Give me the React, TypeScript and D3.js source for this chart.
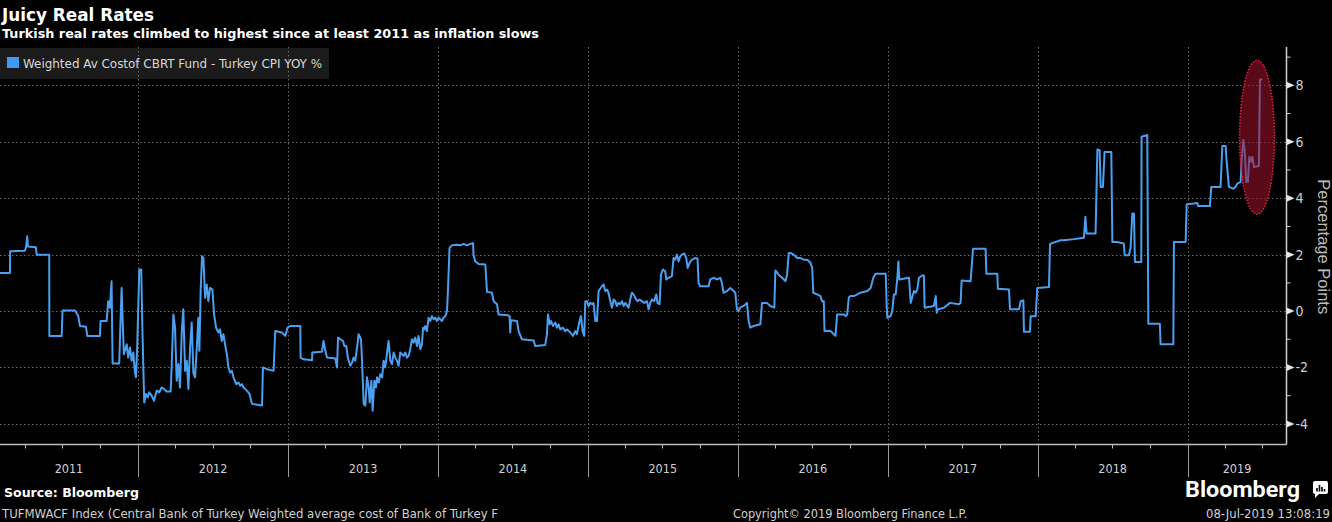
import React, { useRef, useEffect } from "react";
import * as d3 from "d3";

// Weighted Av Cost of CBRT Funding minus Turkey CPI YoY (pct points)
// each point is [decimal year, value]
const s2011 = [
  [2011.079, 1.35], [2011.146, 1.35], [2011.147, 2.12], [2011.246, 2.14], [2011.253, 2.26], [2011.261, 2.65],
  [2011.266, 2.29], [2011.319, 2.26], [2011.324, 2.0], [2011.408, 2.0], [2011.409, -0.88], [2011.491, -0.88],
  [2011.497, 0.02], [2011.58, 0.02], [2011.602, -0.18], [2011.613, -0.53], [2011.653, -0.56], [2011.662, -0.88],
  [2011.746, -0.88], [2011.751, -0.35], [2011.791, -0.35], [2011.802, 0.35], [2011.813, 0.12], [2011.824, 1.06],
  [2011.831, -1.86], [2011.875, -1.86], [2011.891, 0.82], [2011.906, -1.53], [2011.925, -1.18], [2011.935, -1.65],
  [2011.947, -1.29], [2011.958, -1.76], [2011.969, -1.47], [2011.98, -2.18], [2011.987, -2.35], [2011.995, -1.3],
];
const s2012 = [
  [2012.009, 1.47], [2012.022, 1.47], [2012.031, -0.94], [2012.042, -3.24], [2012.053, -2.94], [2012.065, -3.06],
  [2012.075, -2.88], [2012.091, -3.0], [2012.107, -3.18], [2012.125, -2.82], [2012.142, -2.88], [2012.158, -2.71],
  [2012.173, -2.76], [2012.191, -2.85], [2012.218, -2.85], [2012.225, -1.88], [2012.236, -0.12], [2012.247, -0.59],
  [2012.258, -2.47], [2012.269, -1.88], [2012.28, -2.71], [2012.292, -0.71], [2012.302, 0.06], [2012.314, -2.12],
  [2012.325, -1.76], [2012.336, -2.76], [2012.347, -1.29], [2012.358, -0.41], [2012.369, -2.18], [2012.38, -2.35],
  [2012.392, -1.29], [2012.402, -0.24], [2012.409, -1.41], [2012.418, 0.82], [2012.427, 1.94], [2012.436, 1.88],
  [2012.447, 0.47], [2012.458, 0.94], [2012.469, 0.35], [2012.48, 0.82], [2012.496, 0.76], [2012.507, -0.12],
  [2012.52, -0.59], [2012.536, -0.76], [2012.547, -0.65], [2012.558, -1.06], [2012.569, -0.82], [2012.58, -1.18],
  [2012.592, -1.53], [2012.602, -2.0], [2012.614, -2.18], [2012.625, -2.12], [2012.636, -2.35], [2012.654, -2.59],
  [2012.669, -2.53], [2012.681, -2.65], [2012.692, -2.59], [2012.703, -2.71], [2012.725, -2.82], [2012.743, -2.94],
  [2012.759, -3.29], [2012.826, -3.35], [2012.832, -2.0], [2012.859, -2.06], [2012.903, -2.12], [2012.914, -0.71],
  [2012.959, -0.76], [2012.981, -0.88], [2012.996, -0.59],
];
const s2013 = [
  [2013.014, -0.53], [2013.081, -0.53], [2013.083, -1.65], [2013.103, -1.71], [2013.159, -1.74], [2013.161, -1.47],
  [2013.226, -1.44], [2013.236, -1.06], [2013.248, -1.41], [2013.259, -1.65], [2013.315, -1.68], [2013.326, -2.0],
  [2013.333, -0.94], [2013.366, -1.06], [2013.375, -1.24], [2013.388, -1.24], [2013.398, -1.65], [2013.415, -1.94],
  [2013.427, -1.82], [2013.437, -1.65], [2013.448, -1.76], [2013.46, -1.29], [2013.47, -0.82], [2013.486, -1.0],
  [2013.493, -1.76], [2013.504, -3.29], [2013.515, -3.35], [2013.526, -2.35], [2013.537, -2.71], [2013.544, -3.24],
  [2013.555, -2.47], [2013.564, -3.53], [2013.575, -2.47], [2013.586, -2.71], [2013.593, -2.35], [2013.604, -2.53],
  [2013.615, -2.24], [2013.627, -2.35], [2013.637, -1.76], [2013.648, -2.0], [2013.66, -1.47], [2013.67, -1.06],
  [2013.682, -1.76], [2013.693, -1.88], [2013.704, -1.47], [2013.715, -1.65], [2013.726, -1.76], [2013.737, -1.94],
  [2013.748, -1.47], [2013.76, -1.53], [2013.77, -1.59], [2013.782, -1.47], [2013.793, -1.65], [2013.804, -1.59],
  [2013.815, -1.35], [2013.826, -1.0], [2013.837, -1.12], [2013.848, -0.94], [2013.86, -1.24], [2013.87, -0.88],
  [2013.882, -1.35], [2013.893, -1.18], [2013.9, -0.59], [2013.908, -0.65], [2013.915, -0.53], [2013.926, -0.71],
  [2013.937, -0.24], [2013.948, -0.35], [2013.96, -0.18], [2013.971, -0.29], [2013.982, -0.24], [2013.993, -0.35],
];
const s2014 = [
  [2014.004, -0.24], [2014.015, -0.29], [2014.026, -0.35], [2014.037, -0.24], [2014.049, -0.18], [2014.06, 0],
  [2014.067, 0.82], [2014.077, 2.24], [2014.093, 2.33], [2014.127, 2.35], [2014.149, 2.33], [2014.171, 2.38],
  [2014.193, 2.33], [2014.216, 2.38], [2014.234, 2.41], [2014.237, 2.0], [2014.249, 1.76], [2014.271, 1.67],
  [2014.316, 1.65], [2014.327, 0.68], [2014.36, 0.65], [2014.371, 0.35], [2014.394, 0.24], [2014.404, -0.12],
  [2014.464, -0.15], [2014.478, -0.18], [2014.482, -0.76], [2014.487, -0.33], [2014.527, -0.35], [2014.538, -0.71],
  [2014.56, -1.0], [2014.638, -1.04], [2014.649, -1.24], [2014.716, -1.2], [2014.727, -0.82], [2014.734, -0.12],
  [2014.745, -0.47], [2014.754, -0.35], [2014.767, -0.53], [2014.783, -0.41], [2014.794, -0.59], [2014.805, -0.47],
  [2014.816, -0.65], [2014.834, -0.59], [2014.849, -0.71], [2014.861, -0.65], [2014.883, -0.76], [2014.901, -0.88],
  [2014.916, -0.71], [2014.927, -0.82], [2014.945, -0.35], [2014.954, -0.18], [2014.965, -0.71], [2014.976, -0.88],
  [2014.983, 0.35], [2014.994, 0.35],
];
const s2015 = [
  [2015.005, 0.18], [2015.016, 0.29], [2015.028, 0.24], [2015.038, 0.29], [2015.05, -0.35], [2015.061, -0.35],
  [2015.072, 0.71], [2015.094, 0.88], [2015.105, 0.94], [2015.116, 0.71], [2015.128, 0.76], [2015.138, 0.65],
  [2015.15, 0.35], [2015.161, 0.12], [2015.172, 0.41], [2015.183, 0.35], [2015.194, 0.18], [2015.205, 0.29],
  [2015.217, 0.24], [2015.228, 0.35], [2015.239, 0.18], [2015.25, 0.29], [2015.272, 0.12], [2015.283, 0.41],
  [2015.294, 0.65], [2015.305, 0.59], [2015.316, 0.47], [2015.332, 0.35], [2015.345, 0.41], [2015.361, 0.35],
  [2015.377, 0.29], [2015.395, 0.35], [2015.405, 0.06], [2015.417, 0.29], [2015.428, 0.41], [2015.443, 0.35],
  [2015.457, 0.59], [2015.465, 0.29], [2015.479, 0.24], [2015.488, 1.29], [2015.501, 1.47], [2015.517, 1.41],
  [2015.523, 1.12], [2015.539, 1.18], [2015.561, 1.24], [2015.572, 1.88], [2015.583, 1.82], [2015.595, 2.0],
  [2015.605, 1.76], [2015.617, 1.94], [2015.628, 2.0], [2015.643, 2.04], [2015.657, 1.88], [2015.666, 1.53],
  [2015.679, 1.71], [2015.695, 1.82], [2015.717, 1.88], [2015.732, 1.86], [2015.739, 1.0], [2015.75, 0.88],
  [2015.806, 0.88], [2015.817, 1.12], [2015.839, 1.18], [2015.862, 1.12], [2015.884, 1.18], [2015.895, 1.0],
  [2015.906, 0.65], [2015.929, 0.71], [2015.951, 0.82], [2015.973, 0.71], [2015.984, 0.65], [2015.995, 0.06],
];
const s2016 = [
  [2016.006, 0], [2016.017, 0.12], [2016.039, 0.18], [2016.062, 0.29], [2016.073, -0.35], [2016.084, -0.59],
  [2016.106, -0.53], [2016.151, -0.47], [2016.162, 0.29], [2016.195, 0.29], [2016.217, 0.18], [2016.244, 0.12],
  [2016.251, 1.44], [2016.273, 1.29], [2016.296, 1.18], [2016.318, 1.06], [2016.329, 1.29], [2016.34, 2.06],
  [2016.351, 2.06], [2016.373, 2.0], [2016.396, 1.88], [2016.418, 1.88], [2016.44, 1.82], [2016.463, 1.82],
  [2016.485, 1.71], [2016.496, 1.53], [2016.503, 0.65], [2016.529, 0.59], [2016.551, 0.53], [2016.562, 0.35],
  [2016.573, 0.35], [2016.578, -0.71], [2016.618, -0.71], [2016.651, -0.88], [2016.662, -0.12], [2016.707, -0.12],
  [2016.718, -0.18], [2016.729, -0.12], [2016.74, 0.49], [2016.751, 0.53], [2016.773, 0.53], [2016.796, 0.59],
  [2016.818, 0.65], [2016.863, 0.71], [2016.885, 0.82], [2016.903, 1.18], [2016.918, 1.32], [2016.985, 1.32],
  [2016.992, 0.18], [2016.996, -0.24],
];
const s2017 = [
  [2017.018, -0.18], [2017.029, 0], [2017.04, 0.59], [2017.052, 0.59], [2017.063, 1.18], [2017.07, 1.76],
  [2017.076, 1.12], [2017.141, 1.18], [2017.152, 0.29], [2017.174, 0.71], [2017.185, 0.65], [2017.196, 0.76],
  [2017.207, 1.18], [2017.23, 1.26], [2017.24, 1.26], [2017.245, 0.12], [2017.307, 0.18], [2017.319, 0.53],
  [2017.326, -0.06], [2017.334, 0.06], [2017.374, 0.12], [2017.414, 0.29], [2017.474, 0.24], [2017.485, 0.29],
  [2017.492, 1.08], [2017.552, 1.06], [2017.568, 2.21], [2017.652, 2.21], [2017.657, 1.32], [2017.73, 1.32],
  [2017.734, 0.79], [2017.808, 0.76], [2017.815, 0.06], [2017.875, 0.06], [2017.886, 0.35], [2017.904, 0.38],
  [2017.908, -0.73], [2017.948, -0.73], [2017.953, -0.18], [2017.986, -0.18], [2017.997, 0.82],
];
const s2018 = [
  [2018.075, 0.85], [2018.082, 2.38], [2018.153, 2.51], [2018.175, 2.51], [2018.242, 2.55], [2018.308, 2.6],
  [2018.318, 3.34], [2018.326, 2.75], [2018.386, 2.75], [2018.398, 5.73], [2018.413, 5.7], [2018.42, 4.4],
  [2018.435, 4.4], [2018.446, 5.64], [2018.491, 5.64], [2018.498, 2.45], [2018.531, 2.45], [2018.575, 2.39],
  [2018.58, 1.98], [2018.609, 1.98], [2018.62, 2.27], [2018.631, 3.46], [2018.642, 3.46], [2018.649, 1.74],
  [2018.691, 1.74], [2018.693, 6.18], [2018.731, 6.24], [2018.738, -0.45], [2018.815, -0.45], [2018.82, -1.18],
  [2018.905, -1.18], [2018.909, 2.45], [2018.987, 2.45], [2018.994, 3.79],
];
const s2019 = [
  [2019.042, 3.81], [2019.065, 3.83], [2019.071, 3.72], [2019.149, 3.72], [2019.158, 4.4], [2019.22, 4.4],
  [2019.232, 5.85], [2019.254, 5.85], [2019.261, 5.29], [2019.276, 4.4], [2019.305, 4.34], [2019.32, 4.4],
  [2019.332, 4.52], [2019.354, 4.58], [2019.361, 5.35], [2019.372, 6.06], [2019.381, 5.7], [2019.392, 4.58],
  [2019.403, 4.58], [2019.412, 5.47], [2019.421, 5.29], [2019.432, 5.47], [2019.443, 5.11], [2019.476, 5.14],
  [2019.483, 8.21], [2019.499, 8.21],
];

const yearLabels = ["2011", "2012", "2013", "2014", "2015", "2016", "2017", "2018", "2019"];
const majorTicks = [-4, -2, 0, 2, 4, 6, 8];
const minorTicks = [-3, -1, 1, 3, 5, 7, 9];
// red circle drawn around the latest jump (decimal years / pct points)
const highlight = { from: 2019.347, to: 2019.58, low: 3.43, high: 8.89 };

const condensed = "'DejaVu Sans Condensed', 'DejaVu Sans', sans-serif";

function toDate(t) {
  const yr = Math.floor(t);
  const start = Date.UTC(yr, 0, 1);
  const end = Date.UTC(yr + 1, 0, 1);
  return new Date(start + (t - yr) * (end - start));
}

function RealRatesChart(props) {
  var width = props.width;
  var height = props.height;
  const svgRef = useRef();

  useEffect(() => {
    const svg = d3.select(svgRef.current);
    svg.selectAll("*").remove();

    const left = 0,
      right = 1286.5,
      top = 47,
      bottom = 444.5;

    const x = d3
      .scaleUtc()
      .domain([new Date(Date.UTC(2011, 0, 30)), new Date(Date.UTC(2019, 7, 30))])
      .range([left, right]);
    const y = d3.scaleLinear().domain([-4.73, 9.36]).range([bottom, top]);

    const data = [].concat(s2011, s2012, s2013, s2014, s2015, s2016, s2017, s2018, s2019);
    const yearStarts = yearLabels.map((d) => new Date(Date.UTC(+d, 0, 1)));

    //titles
    svg
      .append("text")
      .attr("x", 2)
      .attr("y", 21)
      .attr("fill", "#fff")
      .style("font", "bold 17px 'DejaVu Sans', sans-serif")
      .attr("textLength", 152)
      .attr("lengthAdjust", "spacingAndGlyphs")
      .text("Juicy Real Rates");
    svg
      .append("text")
      .attr("x", 2)
      .attr("y", 38)
      .attr("fill", "#fff")
      .style("font", "bold 11.5px 'DejaVu Sans', sans-serif")
      .attr("textLength", 537)
      .attr("lengthAdjust", "spacingAndGlyphs")
      .text("Turkish real rates climbed to highest since at least 2011 as inflation slows");

    //legend box sits under the grid (the dotted lines show through it)
    svg.append("rect").attr("x", 0).attr("y", 48).attr("width", 329).attr("height", 31).attr("fill", "#1b1b1b");

    //dotted grid
    const grid = svg.append("g").attr("stroke", "#6a6a6a").attr("stroke-dasharray", "1.5,2.5");
    grid
      .selectAll("line.h")
      .data(majorTicks)
      .join("line")
      .attr("x1", left)
      .attr("x2", right)
      .attr("y1", (d) => Math.round(y(d)) + 0.5)
      .attr("y2", (d) => Math.round(y(d)) + 0.5);
    grid
      .selectAll("line.v")
      .data(yearStarts.slice(1))
      .join("line")
      .attr("x1", (d) => Math.round(x(d)) + 0.5)
      .attr("x2", (d) => Math.round(x(d)) + 0.5)
      .attr("y1", top)
      .attr("y2", bottom);

    svg.append("rect").attr("x", 7).attr("y", 57).attr("width", 12).attr("height", 11).attr("fill", "#3f9bf2");
    svg
      .append("text")
      .attr("x", 23)
      .attr("y", 68)
      .attr("fill", "#d8d8d8")
      .style("font", "12px " + condensed)
      .attr("textLength", 299)
      .attr("lengthAdjust", "spacingAndGlyphs")
      .text("Weighted Av Costof CBRT Fund - Turkey CPI YOY %");

    //the series
    const line = d3
      .line()
      .x((d) => x(toDate(d[0])))
      .y((d) => y(d[1]));
    svg
      .append("path")
      .datum(data)
      .attr("d", line)
      .attr("fill", "none")
      .attr("stroke", "#4a9ff0")
      .attr("stroke-width", 2)
      .attr("stroke-linejoin", "round");

    //highlight ellipse over the last jump
    const ex0 = x(toDate(highlight.from)),
      ex1 = x(toDate(highlight.to));
    const ey0 = y(highlight.high),
      ey1 = y(highlight.low);
    svg
      .append("ellipse")
      .attr("cx", (ex0 + ex1) / 2)
      .attr("cy", (ey0 + ey1) / 2)
      .attr("rx", (ex1 - ex0) / 2)
      .attr("ry", (ey1 - ey0) / 2)
      .attr("fill", "#a3102c")
      .attr("fill-opacity", 0.55)
      .attr("stroke", "#e8243c")
      .attr("stroke-width", 1.5)
      .attr("stroke-dasharray", "1.5,1.5");

    //right axis
    const axis = svg.append("g");
    axis
      .append("line")
      .attr("x1", right)
      .attr("x2", right)
      .attr("y1", top)
      .attr("y2", bottom)
      .attr("stroke", "#cfcfcf")
      .attr("stroke-width", 1.5);
    axis
      .selectAll("path.major")
      .data(majorTicks)
      .join("path")
      .attr("d", (d) => `M${right},${y(d) - 3.5}L${right + 8},${y(d)}L${right},${y(d) + 3.5}Z`)
      .attr("fill", "#e6e6e6");
    axis
      .selectAll("line.minor")
      .data(minorTicks)
      .join("line")
      .attr("x1", right)
      .attr("x2", right + 4)
      .attr("y1", (d) => y(d))
      .attr("y2", (d) => y(d))
      .attr("stroke", "#cfcfcf");
    axis
      .selectAll("text")
      .data(majorTicks)
      .join("text")
      .attr("x", right + 9)
      .attr("y", (d) => y(d) + 5)
      .attr("fill", "#cfcfcf")
      .style("font", "14px " + condensed)
      .text((d) => (d < 0 ? "-" + Math.abs(d) : String(d)));
    svg
      .append("text")
      .attr("transform", `translate(1318,${(top + bottom) / 2 + 1}) rotate(90)`)
      .attr("text-anchor", "middle")
      .attr("fill", "#bdbdbd")
      .style("font", "16.5px 'Liberation Sans', Arial, sans-serif")
      .text("Percentage Points");

    //bottom axis
    axis
      .append("line")
      .attr("x1", left)
      .attr("x2", right)
      .attr("y1", bottom)
      .attr("y2", bottom)
      .attr("stroke", "#bdbdbd")
      .attr("stroke-width", 1.5);
    const quarters = d3.utcMonth
      .every(3)
      .range(x.domain()[0], x.domain()[1])
      .filter((d) => d.getUTCMonth() !== 0);
    axis
      .selectAll("line.q")
      .data(quarters)
      .join("line")
      .attr("x1", (d) => Math.round(x(d)) + 0.5)
      .attr("x2", (d) => Math.round(x(d)) + 0.5)
      .attr("y1", bottom)
      .attr("y2", bottom + 4)
      .attr("stroke", "#bdbdbd");
    axis
      .selectAll("line.sep")
      .data(yearStarts.slice(1))
      .join("line")
      .attr("x1", (d) => Math.round(x(d)) + 0.5)
      .attr("x2", (d) => Math.round(x(d)) + 0.5)
      .attr("y1", bottom)
      .attr("y2", 477)
      .attr("stroke", "#9a9a9a");
    axis
      .selectAll("text.year")
      .data(yearLabels)
      .join("text")
      .attr("x", (d) => {
        const a = Math.max(left, x(new Date(Date.UTC(+d, 0, 1))));
        const b = Math.min(right, x(new Date(Date.UTC(+d + 1, 0, 1))));
        return (a + b) / 2;
      })
      .attr("y", 473)
      .attr("text-anchor", "middle")
      .attr("fill", "#d0d0d0")
      .style("font", "12.5px " + condensed)
      .text((d) => d);

    //footer
    svg
      .append("text")
      .attr("x", 4)
      .attr("y", 497)
      .attr("fill", "#fff")
      .style("font", "bold 12px 'DejaVu Sans', sans-serif")
      .attr("textLength", 135)
      .attr("lengthAdjust", "spacingAndGlyphs")
      .text("Source: Bloomberg");
    const foot = svg.append("g").attr("fill", "#d0d0d0").style("font", "11.5px " + condensed);
    foot
      .append("text")
      .attr("x", 2)
      .attr("y", 518)
      .attr("textLength", 496)
      .attr("lengthAdjust", "spacingAndGlyphs")
      .text("TUFMWACF Index (Central Bank of Turkey Weighted average cost of Bank of Turkey F");
    foot
      .append("text")
      .attr("x", 733)
      .attr("y", 518)
      .attr("textLength", 234)
      .attr("lengthAdjust", "spacingAndGlyphs")
      .text("Copyright\u00a9 2019 Bloomberg Finance L.P.");
    foot
      .append("text")
      .attr("x", 1206)
      .attr("y", 518)
      .attr("textLength", 124)
      .attr("lengthAdjust", "spacingAndGlyphs")
      .text("08-Jul-2019 13:08:19");

    //bloomberg wordmark
    svg
      .append("text")
      .attr("x", 1185)
      .attr("y", 497)
      .attr("fill", "#fff")
      .style("font", "bold 22px Roboto, 'Open Sans', sans-serif")
      .attr("textLength", 115)
      .attr("lengthAdjust", "spacingAndGlyphs")
      .text("Bloomberg");
    const logo = svg.append("g").attr("transform", "translate(1313,481)");
    logo.append("rect").attr("width", 15).attr("height", 13).attr("rx", 2).attr("fill", "#fff");
    logo.append("path").attr("d", "M2,12L2,17L7,12Z").attr("fill", "#fff");
    [
      [4, 7],
      [6.5, 4],
      [9, 6],
      [11.5, 8],
    ].forEach((b) => {
      logo
        .append("rect")
        .attr("x", b[0] - 0.8)
        .attr("y", b[1])
        .attr("width", 1.6)
        .attr("height", 10.5 - b[1])
        .attr("fill", "#000");
    });
  }, []);

  return <svg ref={svgRef} width={width} height={height} style={{ display: "block", background: "#000" }}></svg>;
}

export default function App() {
  return (
    <div>
      <style>{"body{margin:0;background:#000;}"}</style>
      <RealRatesChart width={1332} height={522} />
    </div>
  );
}
